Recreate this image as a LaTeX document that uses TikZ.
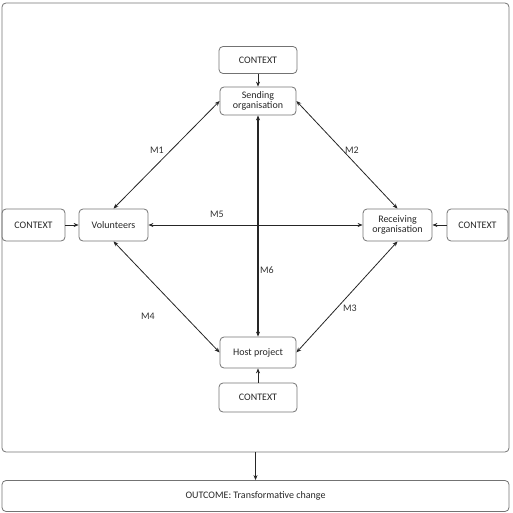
\documentclass[tikz,border=0pt]{standalone}
\usepackage{fontspec}
\setmainfont{Carlito}
\usetikzlibrary{arrows.meta}
\begin{document}
\begin{tikzpicture}[x=1pt,y=-1pt,
  box/.style={draw=black!55,line width=0.8pt,rounded corners=4pt,align=center,font=\fontsize{10}{10.5}\selectfont,text=black!85,inner sep=1pt},
  lbl/.style={font=\fontsize{10}{10.5}\selectfont,text=black!80,inner sep=1pt},
  arr/.style={-{Stealth[length=5pt,width=4pt]},line width=0.8pt,black!85},
  darr/.style={{Stealth[length=5pt,width=4pt]}-{Stealth[length=5pt,width=4pt]},line width=0.8pt,black!85}]
\useasboundingbox (0,0) rectangle (513,513);
% frame and outcome
\node[box,minimum width=507pt,minimum height=449pt] (frame) at (255.5,227.5) {};
\node[box,minimum width=507pt,minimum height=31pt] (out) at (255.5,496) {OUTCOME: Transformative change};
% main nodes
\node[box,minimum width=78pt,minimum height=27pt] (ctop) at (258,60) {CONTEXT};
\node[box,minimum width=76pt,minimum height=28pt] (send) at (258,101) {Sending\\organisation};
\node[box,minimum width=63pt,minimum height=32pt] (cleft) at (33.5,225) {CONTEXT};
\node[box,minimum width=69pt,minimum height=32pt] (vol) at (113.5,225) {Volunteers};
\node[box,minimum width=69pt,minimum height=32pt] (rec) at (397.5,225) {Receiving\\organisation};
\node[box,minimum width=61pt,minimum height=32pt] (cright) at (477.5,225) {CONTEXT};
\node[box,minimum width=76pt,minimum height=31pt] (host) at (258,352.5) {Host project};
\node[box,minimum width=78pt,minimum height=29pt] (cbot) at (258,397.5) {CONTEXT};
% context arrows
\draw[arr] (ctop) -- (send);
\draw[arr] (cleft) -- (vol);
\draw[arr] (cright) -- (rec);
\draw[arr] (cbot) -- (host);
\draw[arr] (frame.south) -- (out.north);
% M arrows
\draw[darr] (send.west) -- (vol.north);
\node[lbl] (m1) at (157,150) {M1};
\draw[darr] (send.east) -- (rec.north);
\node[lbl] (m2) at (352,150) {M2};
\draw[darr] (vol.east) -- (rec.west);
\node[lbl] (m5) at (217,214) {M5};
\draw[darr,line width=1.6pt] (send.south) -- (host.north);
\node[lbl] (m6) at (267,270) {M6};
\draw[darr] (vol.south) -- (host.west);
\node[lbl] (m4) at (148,316) {M4};
\draw[darr] (rec.south) -- (host.east);
\node[lbl] (m3) at (350,308) {M3};
\end{tikzpicture}
\end{document}
